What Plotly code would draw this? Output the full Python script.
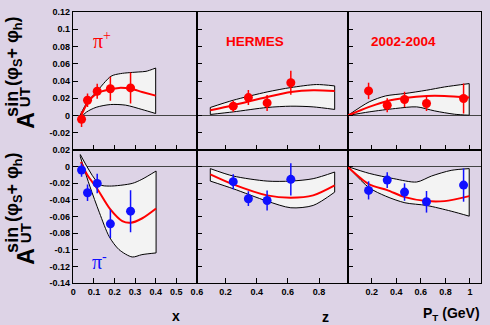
import plotly.graph_objects as go
from plotly.subplots import make_subplots

# ---------------- data ----------------
# pi+ measurements (top row) and pi- measurements (bottom row)
x_bins = [0.040, 0.069, 0.116, 0.180, 0.278]
z_bins = [0.250, 0.347, 0.467, 0.619]
pt_bins = [0.174, 0.326, 0.467, 0.646, 0.948]

pip_x_val = [-0.0043, 0.0177, 0.0281, 0.0310, 0.0320]
pip_x_err = [0.0090, 0.0077, 0.0087, 0.0140, 0.0180]
pip_z_val = [0.0108, 0.0208, 0.0146, 0.0380]
pip_z_err = [0.0064, 0.0087, 0.0093, 0.0140]
pip_pt_val = [0.0285, 0.0119, 0.0185, 0.0139, 0.0197]
pip_pt_err = [0.0095, 0.0080, 0.0090, 0.0087, 0.0174]

pim_x_val = [-0.0041, -0.0314, -0.0202, -0.0688, -0.0536]
pim_x_err = [0.0080, 0.0100, 0.0117, 0.0170, 0.0253]
pim_z_val = [-0.0181, -0.0386, -0.0407, -0.0153]
pim_z_err = [0.0090, 0.0089, 0.0120, 0.0193]
pim_pt_val = [-0.0286, -0.0162, -0.0306, -0.0423, -0.0222]
pim_pt_err = [0.0109, 0.0095, 0.0105, 0.0130, 0.0200]

# model curves (central value) and uncertainty band edges
pip_x_curve_x = [0.035, 0.069, 0.116, 0.180, 0.222, 0.278, 0.334, 0.400]
pip_x_curve_y = [-0.0023, 0.0145, 0.0260, 0.0305, 0.0320, 0.0310, 0.0273, 0.0230]
pip_x_up_x = [0.033, 0.069, 0.111, 0.183, 0.230, 0.318, 0.353, 0.400]
pip_x_up_y = [0.0003, 0.0160, 0.0270, 0.0455, 0.0486, 0.0505, 0.0512, 0.0550]
pip_x_lo_x = [0.033, 0.064, 0.111, 0.180, 0.254, 0.333, 0.400]
pip_x_lo_y = [-0.0030, 0.0040, 0.0095, 0.0127, 0.0120, 0.0070, 0.0023]

pip_z_curve_x = [0.103, 0.250, 0.467, 0.619, 0.762, 0.900]
pip_z_curve_y = [0.0061, 0.0119, 0.0215, 0.0273, 0.0293, 0.0285]
pip_z_up_x = [0.103, 0.250, 0.467, 0.619, 0.783, 0.900]
pip_z_up_y = [0.0093, 0.0177, 0.0273, 0.0324, 0.0359, 0.0343]
pip_z_lo_x = [0.103, 0.250, 0.467, 0.619, 0.762, 0.900]
pip_z_lo_y = [0.0012, 0.0042, 0.0093, 0.0108, 0.0100, 0.0070]

pip_pt_curve_x = [0.005, 0.179, 0.326, 0.470, 0.646, 0.793, 0.994]
pip_pt_curve_y = [0.0000, 0.0100, 0.0169, 0.0204, 0.0227, 0.0227, 0.0208]
pip_pt_up_x = [0.005, 0.179, 0.313, 0.470, 0.646, 0.793, 0.994]
pip_pt_up_y = [0.0000, 0.0158, 0.0227, 0.0255, 0.0293, 0.0331, 0.0370]
pip_pt_lo_x = [0.005, 0.179, 0.393, 0.566, 0.713, 0.873, 0.994]
pip_pt_lo_y = [0.0000, 0.0042, 0.0081, 0.0100, 0.0053, 0.0015, 0.0003]

pim_x_curve_x = [0.037, 0.069, 0.116, 0.180, 0.238, 0.278, 0.333, 0.402]
pim_x_curve_y = [0.0056, -0.0105, -0.0266, -0.0515, -0.0656, -0.0676, -0.0624, -0.0503]
pim_x_up_x = [0.034, 0.127, 0.175, 0.286, 0.333, 0.402]
pim_x_up_y = [0.0145, -0.0214, -0.0234, -0.0202, -0.0153, -0.0053]
pim_x_lo_x = [0.034, 0.080, 0.127, 0.175, 0.222, 0.286, 0.333, 0.402]
pim_x_lo_y = [0.0120, -0.0234, -0.0555, -0.0845, -0.0998, -0.1087, -0.1059, -0.1038]

pim_z_curve_x = [0.103, 0.250, 0.467, 0.619, 0.762, 0.900]
pim_z_curve_y = [-0.0093, -0.0214, -0.0346, -0.0374, -0.0346, -0.0226]
pim_z_up_x = [0.103, 0.250, 0.467, 0.619, 0.762, 0.900]
pim_z_up_y = [-0.0024, -0.0113, -0.0174, -0.0174, -0.0145, -0.0065]
pim_z_lo_x = [0.103, 0.250, 0.467, 0.619, 0.762, 0.900]
pim_z_lo_y = [-0.0174, -0.0266, -0.0415, -0.0495, -0.0467, -0.0307]

pim_pt_curve_x = [0.005, 0.179, 0.326, 0.470, 0.646, 0.793, 0.994]
pim_pt_curve_y = [-0.0005, -0.0214, -0.0282, -0.0367, -0.0415, -0.0415, -0.0355]
pim_pt_up_x = [0.005, 0.179, 0.380, 0.566, 0.687, 0.847, 0.994]
pim_pt_up_y = [0.0000, -0.0081, -0.0145, -0.0185, -0.0113, -0.0045, -0.0024]
pim_pt_lo_x = [0.005, 0.179, 0.313, 0.470, 0.646, 0.847, 0.994]
pim_pt_lo_y = [0.0000, -0.0254, -0.0355, -0.0435, -0.0467, -0.0536, -0.0596]

# axis ticks
x_ticks = [0, 0.1, 0.2, 0.3, 0.4, 0.5, 0.6]
x_ticktext = ["0", "0.1", "0.2", "0.3", "0.4", "0.5", "0.6"]
z_ticks = [0.2, 0.4, 0.6, 0.8]
z_ticktext = ["0.2", "0.4", "0.6", "0.8"]
pt_ticks = [0.2, 0.4, 0.6, 0.8, 1.0]
pt_ticktext = ["0.2", "0.4", "0.6", "0.8", "1"]
top_yticks = [-0.02, 0, 0.02, 0.04, 0.06, 0.08, 0.10, 0.12]
top_yticktext = ["-0.02", "0", "0.02", "0.04", "0.06", "0.08", "0.1", "0.12"]
bot_yticks = [-0.14, -0.12, -0.10, -0.08, -0.06, -0.04, -0.02, 0, 0.02]
bot_yticktext = ["-0.14", "-0.12", "-0.1", "-0.08", "-0.06", "-0.04", "-0.02", "0", "0.02"]

# ---------------- styling ----------------
BG = "#DDD3E6"
BAND = "#F3F3F3"
RED = "#FF0000"
BLUE = "#1010FF"
FONT = "Liberation Sans, Arial, Helvetica, sans-serif"

W, H = 490, 325
ML, MR, MT, MB = 73, 3, 12, 42

fig = make_subplots(
    rows=2, cols=3,
    column_widths=[126, 153, 135], row_heights=[138, 133],
    horizontal_spacing=0, vertical_spacing=0,
)


def add_panel(row, col, xs, vals, errs, color, cx, cy, ux, uy, lx, ly):
    # lower edge of band
    fig.add_trace(go.Scatter(x=lx, y=ly, mode="lines",
                             line=dict(color="black", width=1, shape="spline", smoothing=0.8),
                             hoverinfo="skip"), row=row, col=col)
    # upper edge, filled down to the lower edge
    fig.add_trace(go.Scatter(x=ux, y=uy, mode="lines", fill="tonexty", fillcolor=BAND,
                             line=dict(color="black", width=1, shape="spline", smoothing=0.8),
                             hoverinfo="skip"), row=row, col=col)
    # closing edges of band
    for i in (0, -1):
        fig.add_trace(go.Scatter(x=[lx[i], ux[i]], y=[ly[i], uy[i]], mode="lines",
                                 line=dict(color="black", width=1), hoverinfo="skip"),
                      row=row, col=col)
    # central curve
    fig.add_trace(go.Scatter(x=cx, y=cy, mode="lines",
                             line=dict(color=RED, width=2, shape="spline", smoothing=0.8)),
                  row=row, col=col)
    # measurements
    fig.add_trace(go.Scatter(x=xs, y=vals, mode="markers",
                             marker=dict(color=color, size=9),
                             error_y=dict(type="data", array=errs, color=color,
                                          thickness=1.5, width=0)),
                  row=row, col=col)


add_panel(1, 1, x_bins, pip_x_val, pip_x_err, RED,
          pip_x_curve_x, pip_x_curve_y, pip_x_up_x, pip_x_up_y, pip_x_lo_x, pip_x_lo_y)
add_panel(1, 2, z_bins, pip_z_val, pip_z_err, RED,
          pip_z_curve_x, pip_z_curve_y, pip_z_up_x, pip_z_up_y, pip_z_lo_x, pip_z_lo_y)
add_panel(1, 3, pt_bins, pip_pt_val, pip_pt_err, RED,
          pip_pt_curve_x, pip_pt_curve_y, pip_pt_up_x, pip_pt_up_y, pip_pt_lo_x, pip_pt_lo_y)
add_panel(2, 1, x_bins, pim_x_val, pim_x_err, BLUE,
          pim_x_curve_x, pim_x_curve_y, pim_x_up_x, pim_x_up_y, pim_x_lo_x, pim_x_lo_y)
add_panel(2, 2, z_bins, pim_z_val, pim_z_err, BLUE,
          pim_z_curve_x, pim_z_curve_y, pim_z_up_x, pim_z_up_y, pim_z_lo_x, pim_z_lo_y)
add_panel(2, 3, pt_bins, pim_pt_val, pim_pt_err, BLUE,
          pim_pt_curve_x, pim_pt_curve_y, pim_pt_up_x, pim_pt_up_y, pim_pt_lo_x, pim_pt_lo_y)

axis_common = dict(showline=True, mirror=True, linecolor="black", linewidth=1.2,
                   ticks="inside", ticklen=5, tickwidth=1, tickcolor="black",
                   showgrid=False, zeroline=False,
                   tickfont=dict(family=FONT, size=9, color="black", weight="bold"))

x_specs = [
    dict(range=[-0.0015, 0.6015], tickvals=x_ticks, ticktext=x_ticktext),
    dict(range=[0.019, 0.985], tickvals=z_ticks, ticktext=z_ticktext),
    dict(range=[0.006, 1.09], tickvals=pt_ticks, ticktext=pt_ticktext),
]
for row in (1, 2):
    for col in (1, 2, 3):
        fig.update_xaxes(**axis_common, **x_specs[col - 1],
                         showticklabels=(row == 2), row=row, col=col)
        if row == 1:
            yspec = dict(range=[-0.04, 0.12], tickvals=top_yticks, ticktext=top_yticktext)
        else:
            yspec = dict(range=[-0.14, 0.02], tickvals=bot_yticks, ticktext=bot_yticktext)
        y_common = dict(axis_common)
        y_common["zeroline"] = True
        fig.update_yaxes(**y_common, **yspec, zerolinecolor="#444444", zerolinewidth=1,
                         showticklabels=(col == 1), row=row, col=col)


def px(xpix):
    return (xpix - ML) / (W - ML - MR)


def py(ypix):
    return (H - MB - ypix) / (H - MT - MB)


annotations = []


def label(text, xpix, ypix, size, color="black", family=FONT, angle=0, weight="bold"):
    annotations.append(dict(text=text, x=px(xpix), y=py(ypix), xref="paper", yref="paper",
                            showarrow=False, xanchor="center", yanchor="middle",
                            textangle=angle,
                            font=dict(family=family, size=size, color=color, weight=weight)))


# rotated y titles, one per row
for dy in (0, 136):
    label("A", 25, 120 + dy, 23, angle=-90)
    label("UT", 24.5, 97 + dy, 15, angle=-90)
    label("sin (φ<sub>S</sub>+ φ<sub>h</sub>)", 12, 67 + dy, 18, angle=-90)

# panel labels
label("π<sup>+</sup>", 102, 40, 20, color=RED, family="Liberation Serif, Times New Roman, serif",
      weight="normal")
label("π<sup>-</sup>", 100, 261, 20, color=BLUE, family="Liberation Serif, Times New Roman, serif",
      weight="normal")
label("HERMES", 257.5, 41, 13.5, color=RED)
label("2002-2004", 408.5, 41.7, 13.5, color=RED)

# x titles
label("x", 178, 316, 14)
label("z", 329, 317, 14)
label("P<sub>T</sub> (GeV)", 457, 314, 14)

fig.update_layout(
    width=W, height=H,
    margin=dict(l=ML, r=MR, t=MT, b=MB, pad=0),
    paper_bgcolor=BG, plot_bgcolor=BG,
    showlegend=False,
    annotations=annotations,
    font=dict(family=FONT, color="black"),
)

fig.write_html("out.html")
